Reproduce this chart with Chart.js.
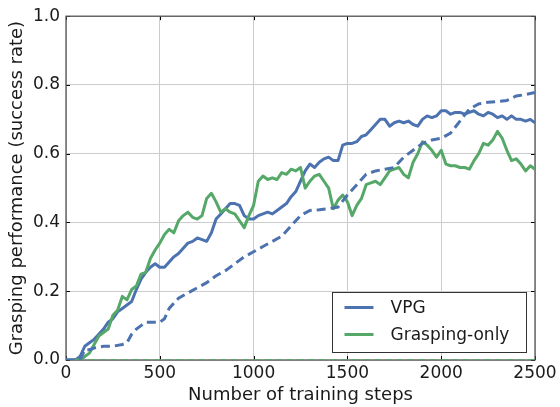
<!DOCTYPE html>
<html>
<head>
<meta charset="utf-8">
<script src="https://cdn.jsdelivr.net/npm/chart.js@4.4.1/dist/chart.umd.min.js"></script>
<style>
  html, body { margin: 0; padding: 0; background: #ffffff; }
  #wrap { width: 560px; height: 407px; }
</style>
</head>
<body>
<div id="wrap"><canvas id="grafico"></canvas></div>
<script>
// training steps (x) for the two solid curves
const pasos = [
    0, 25, 50, 75, 100, 125, 150, 175, 200, 225,
    250, 275, 300, 325, 350, 375, 400, 425, 450, 475,
    500, 525, 550, 575, 600, 625, 650, 675, 700, 725,
    750, 775, 800, 825, 850, 875, 900, 925, 950, 975,
    1000, 1025, 1050, 1075, 1100, 1125, 1150, 1175, 1200, 1225,
    1250, 1275, 1300, 1325, 1350, 1375, 1400, 1425, 1450, 1475,
    1500, 1525, 1550, 1575, 1600, 1625, 1650, 1675, 1700, 1725,
    1750, 1775, 1800, 1825, 1850, 1875, 1900, 1925, 1950, 1975,
    2000, 2025, 2050, 2075, 2100, 2125, 2150, 2175, 2200, 2225,
    2250, 2275, 2300, 2325, 2350, 2375, 2400, 2425, 2450, 2475,
    2500
];

const vpg = [
    0, 0, 0, 0.01, 0.04, 0.05, 0.06, 0.075, 0.09, 0.11,
    0.12, 0.14, 0.15, 0.16, 0.17, 0.205, 0.235, 0.255, 0.27, 0.28,
    0.27, 0.27, 0.285, 0.30, 0.31, 0.325, 0.34, 0.345, 0.355, 0.35,
    0.345, 0.37, 0.41, 0.425, 0.44, 0.455, 0.455, 0.45, 0.42, 0.41,
    0.41, 0.42, 0.425, 0.43, 0.425, 0.435, 0.445, 0.455, 0.475, 0.49,
    0.52, 0.55, 0.57, 0.56, 0.575, 0.585, 0.59, 0.58, 0.58, 0.625,
    0.63, 0.63, 0.635, 0.65, 0.655, 0.67, 0.685, 0.70, 0.70, 0.68,
    0.69, 0.695, 0.69, 0.695, 0.685, 0.68, 0.70, 0.71, 0.705, 0.71,
    0.725, 0.725, 0.715, 0.72, 0.72, 0.715, 0.72, 0.725, 0.715, 0.71,
    0.72, 0.715, 0.705, 0.71, 0.70, 0.71, 0.70, 0.70, 0.695, 0.70,
    0.69
];

const graspingOnly = [
    0, 0, 0, 0, 0.01, 0.02, 0.045, 0.07, 0.08, 0.09,
    0.13, 0.145, 0.185, 0.175, 0.205, 0.215, 0.25, 0.255, 0.295, 0.32,
    0.34, 0.365, 0.38, 0.37, 0.405, 0.42, 0.43, 0.415, 0.41, 0.42,
    0.47, 0.485, 0.46, 0.43, 0.44, 0.43, 0.425, 0.405, 0.385, 0.42,
    0.45, 0.52, 0.535, 0.525, 0.53, 0.525, 0.545, 0.54, 0.555, 0.55,
    0.56, 0.50, 0.52, 0.535, 0.54, 0.52, 0.50, 0.44, 0.465, 0.48,
    0.46, 0.42, 0.45, 0.47, 0.51, 0.515, 0.52, 0.51, 0.53, 0.55,
    0.555, 0.56, 0.54, 0.53, 0.575, 0.60, 0.635, 0.625, 0.61, 0.59,
    0.61, 0.57, 0.565, 0.565, 0.56, 0.56, 0.555, 0.58, 0.60, 0.63,
    0.625, 0.64, 0.665, 0.645, 0.61, 0.58, 0.585, 0.57, 0.55, 0.565,
    0.555
];

// dashed curves
const pasosGuion = [
    0, 50, 75, 100, 125, 150, 200, 250, 300, 325,
    350, 375, 400, 425, 450, 500, 525, 550, 575, 600,
    650, 700, 750, 800, 850, 900, 950, 1000, 1050, 1100,
    1150, 1200, 1250, 1300, 1350, 1400, 1450, 1500, 1550, 1600,
    1650, 1700, 1750, 1800, 1850, 1900, 1950, 2000, 2050, 2100,
    2150, 2200, 2250, 2300, 2350, 2400, 2450, 2500
];
const vpgGuion = [
    0, 0, 0, 0.03, 0.03, 0.035, 0.04, 0.04, 0.045, 0.05,
    0.075, 0.09, 0.10, 0.11, 0.11, 0.11, 0.12, 0.15, 0.165, 0.18,
    0.195, 0.21, 0.225, 0.245, 0.26, 0.28, 0.30, 0.315, 0.33, 0.345,
    0.36, 0.39, 0.42, 0.435, 0.437, 0.44, 0.445, 0.48, 0.51, 0.54,
    0.55, 0.555, 0.56, 0.59, 0.61, 0.63, 0.64, 0.645, 0.66, 0.695,
    0.73, 0.745, 0.75, 0.752, 0.755, 0.768, 0.772, 0.778
];
const pasosCero = [0, 2500];
const graspingGuion = [0, 0];

const ticksX = [0, 500, 1000, 1500, 2000, 2500];
const ticksY = [0, 0.2, 0.4, 0.6, 0.8, 1.0];

const azul = '#4c72b0';
const verde = '#55a868';
const fuente = "'DejaVu Sans', sans-serif";

function puntos(xs, ys) {
    return xs.map((x, i) => ({ x: x, y: ys[i] }));
}

// frame + inward ticks, drawn under the lines
const marco = {
    id: 'marco',
    beforeDatasetsDraw(chart) {
        const { ctx, chartArea: a, scales } = chart;
        ctx.save();
        ctx.strokeStyle = '#000000';
        ctx.lineWidth = 1;
        ticksX.forEach(v => {
            const px = Math.round(scales.x.getPixelForValue(v)) + 0.5;
            ctx.beginPath();
            ctx.moveTo(px, a.top); ctx.lineTo(px, a.top + 4);
            ctx.moveTo(px, a.bottom); ctx.lineTo(px, a.bottom - 4);
            ctx.stroke();
        });
        ticksY.forEach(v => {
            const py = Math.round(scales.y.getPixelForValue(v)) + 0.5;
            ctx.beginPath();
            ctx.moveTo(a.left, py); ctx.lineTo(a.left + 4, py);
            ctx.moveTo(a.right, py); ctx.lineTo(a.right - 4, py);
            ctx.stroke();
        });
        ctx.strokeStyle = '#555555';
        ctx.lineWidth = 1.3;
        ctx.strokeRect(a.left, a.top, a.right - a.left, a.bottom - a.top);
        ctx.restore();
    }
};

// legend box in the lower right corner
const leyenda = {
    id: 'leyenda',
    afterDraw(chart) {
        const { ctx, chartArea: a } = chart;
        const w = 194, h = 60;
        const x0 = Math.round(a.right - 9 - w) + 0.5;
        const y0 = Math.round(a.bottom - 8 - h) + 0.5;
        ctx.save();
        ctx.fillStyle = '#ffffff';
        ctx.fillRect(x0, y0, w, h);
        ctx.strokeStyle = '#333333';
        ctx.lineWidth = 1;
        ctx.strokeRect(x0, y0, w, h);
        const items = [
            { texto: 'VPG', color: azul, y: y0 + 15 },
            { texto: 'Grasping-only', color: verde, y: y0 + 42 }
        ];
        ctx.font = '17px ' + fuente;
        ctx.textBaseline = 'middle';
        items.forEach(it => {
            ctx.strokeStyle = it.color;
            ctx.lineWidth = 3;
            ctx.beginPath();
            ctx.moveTo(x0 + 12, it.y);
            ctx.lineTo(x0 + 41, it.y);
            ctx.stroke();
            ctx.fillStyle = '#1a1a1a';
            ctx.fillText(it.texto, x0 + 58, it.y + 1);
        });
        ctx.restore();
    }
};

const ctx = document.getElementById('grafico').getContext('2d');
const grafico = new Chart(ctx, {
    type: 'line',
    data: {
        datasets: [
            {
                label: 'VPG (dashed)',
                data: puntos(pasosGuion, vpgGuion),
                borderColor: azul,
                borderWidth: 3,
                borderDash: [9, 5],
                pointRadius: 0
            },
            {
                label: 'Grasping-only (dashed)',
                data: puntos(pasosCero, graspingGuion),
                borderColor: verde,
                borderWidth: 1.5,
                borderDash: [7, 4],
                pointRadius: 0
            },
            {
                label: 'Grasping-only',
                data: puntos(pasos, graspingOnly),
                borderColor: verde,
                borderWidth: 3,
                borderJoinStyle: 'round',
                pointRadius: 0
            },
            {
                label: 'VPG',
                data: puntos(pasos, vpg),
                borderColor: azul,
                borderWidth: 3,
                borderJoinStyle: 'round',
                pointRadius: 0
            }
        ]
    },
    options: {
        responsive: true,
        maintainAspectRatio: false,
        animation: false,
        devicePixelRatio: 1,
        layout: { padding: { top: 13, right: 25, left: 0, bottom: 0 } },
        plugins: {
            legend: { display: false },
            tooltip: { enabled: false }
        },
        scales: {
            x: {
                type: 'linear',
                min: 0,
                max: 2500,
                afterBuildTicks: scale => { scale.ticks = ticksX.map(v => ({ value: v })); },
                afterFit: scale => { scale.height = 47; },
                grid: { color: '#cccccc', lineWidth: 1, drawTicks: false },
                border: { display: false },
                ticks: {
                    color: '#1a1a1a',
                    padding: 3,
                    font: { family: fuente, size: 17 },
                    callback: v => String(v)
                },
                title: {
                    display: true,
                    text: 'Number of training steps',
                    color: '#1a1a1a',
                    padding: { top: 0, bottom: 1 },
                    font: { family: fuente, size: 18 }
                }
            },
            y: {
                min: 0,
                max: 1,
                afterBuildTicks: scale => { scale.ticks = ticksY.map(v => ({ value: v })); },
                afterFit: scale => { scale.width = 66; },
                grid: { color: '#cccccc', lineWidth: 1, drawTicks: false },
                border: { display: false },
                ticks: {
                    color: '#1a1a1a',
                    padding: 6,
                    font: { family: fuente, size: 17 },
                    callback: v => Number(v).toFixed(1)
                },
                title: {
                    display: true,
                    text: 'Grasping performance (success rate)',
                    color: '#1a1a1a',
                    padding: { top: 7, bottom: 0 },
                    font: { family: fuente, size: 18 }
                }
            }
        }
    },
    plugins: [marco, leyenda]
});
</script>
</body>
</html>
